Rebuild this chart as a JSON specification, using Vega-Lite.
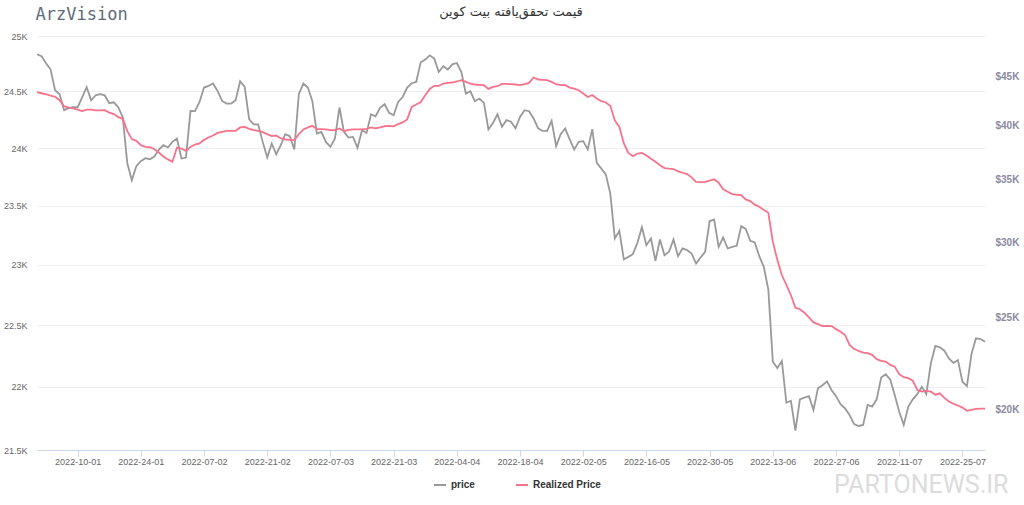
{
  "$schema": "https://vega.github.io/schema/vega-lite/v6.json",
  "autosize": {"type": "none"},
  "padding": {"left": 37, "top": 36, "right": 39, "bottom": 55},
  "width": 948,
  "height": 414,
  "background": "#ffffff",
  "title": {"text": "قیمت تحقق‌یافته بیت کوین", "font": "DejaVu Sans", "fontSize": 13, "fontWeight": "normal", "color": "#333333", "anchor": "middle", "offset": -14},
  "data": {"values": [
    {"d":"2022-01-01","p":47560,"r":24493},{"d":"2022-01-02","p":47330,"r":24484},{"d":"2022-01-03","p":46530,"r":24475},{"d":"2022-01-04","p":45850,"r":24462},{"d":"2022-01-05","p":43560,"r":24453},{"d":"2022-01-06","p":43140,"r":24422},{"d":"2022-01-07","p":41490,"r":24369},{"d":"2022-01-08","p":41690,"r":24356},{"d":"2022-01-09","p":41790,"r":24349},{"d":"2022-01-10","p":41790,"r":24338},
    {"d":"2022-01-11","p":42820,"r":24325},{"d":"2022-01-12","p":43880,"r":24338},{"d":"2022-01-13","p":42510,"r":24338},{"d":"2022-01-14","p":43030,"r":24331},{"d":"2022-01-15","p":43140,"r":24331},{"d":"2022-01-16","p":43030,"r":24334},{"d":"2022-01-17","p":42200,"r":24312},{"d":"2022-01-18","p":42300,"r":24299},{"d":"2022-01-19","p":41790,"r":24272},{"d":"2022-01-20","p":40790,"r":24257},
    {"d":"2022-01-21","p":36460,"r":24148},{"d":"2022-01-22","p":34970,"r":24078},{"d":"2022-01-23","p":36190,"r":24063},{"d":"2022-01-24","p":36630,"r":24025},{"d":"2022-01-25","p":36900,"r":24011},{"d":"2022-01-26","p":36810,"r":24007},{"d":"2022-01-27","p":37040,"r":23990},{"d":"2022-01-28","p":37690,"r":23961},{"d":"2022-01-29","p":38090,"r":23927},{"d":"2022-01-30","p":37880,"r":23901},{"d":"2022-01-31","p":38400,"r":23880},
    {"d":"2022-02-01","p":38720,"r":24004},{"d":"2022-02-02","p":36870,"r":23996},{"d":"2022-02-03","p":36960,"r":23975},{"d":"2022-02-04","p":41420,"r":24010},{"d":"2022-02-05","p":41390,"r":24031},{"d":"2022-02-06","p":42330,"r":24040},{"d":"2022-02-07","p":43850,"r":24072},{"d":"2022-02-08","p":44020,"r":24093},{"d":"2022-02-09","p":44280,"r":24110},{"d":"2022-02-10","p":43490,"r":24133},
    {"d":"2022-02-11","p":42440,"r":24142},{"d":"2022-02-12","p":42170,"r":24151},{"d":"2022-02-13","p":42170,"r":24151},{"d":"2022-02-14","p":42510,"r":24151},{"d":"2022-02-15","p":44530,"r":24181},{"d":"2022-02-16","p":43920,"r":24186},{"d":"2022-02-17","p":40560,"r":24169},{"d":"2022-02-18","p":40070,"r":24157},{"d":"2022-02-19","p":40070,"r":24151},{"d":"2022-02-20","p":38400,"r":24140},
    {"d":"2022-02-21","p":36960,"r":24122},{"d":"2022-02-22","p":38250,"r":24104},{"d":"2022-02-23","p":37260,"r":24110},{"d":"2022-02-24","p":38090,"r":24084},{"d":"2022-02-25","p":39120,"r":24075},{"d":"2022-02-26","p":38940,"r":24072},{"d":"2022-02-27","p":37690,"r":24069},{"d":"2022-02-28","p":43140,"r":24122},
    {"d":"2022-03-01","p":44280,"r":24163},{"d":"2022-03-02","p":43850,"r":24181},{"d":"2022-03-03","p":42410,"r":24195},{"d":"2022-03-04","p":39190,"r":24166},{"d":"2022-03-05","p":39350,"r":24166},{"d":"2022-03-06","p":38400,"r":24163},{"d":"2022-03-07","p":37940,"r":24157},{"d":"2022-03-08","p":38720,"r":24157},{"d":"2022-03-09","p":41760,"r":24172},{"d":"2022-03-10","p":39350,"r":24148},
    {"d":"2022-03-11","p":38810,"r":24160},{"d":"2022-03-12","p":38870,"r":24163},{"d":"2022-03-13","p":37840,"r":24163},{"d":"2022-03-14","p":39510,"r":24163},{"d":"2022-03-15","p":39250,"r":24169},{"d":"2022-03-16","p":41080,"r":24181},{"d":"2022-03-17","p":40880,"r":24172},{"d":"2022-03-18","p":41720,"r":24181},{"d":"2022-03-19","p":42100,"r":24193},{"d":"2022-03-20","p":41220,"r":24195},
    {"d":"2022-03-21","p":40980,"r":24191},{"d":"2022-03-22","p":42330,"r":24210},{"d":"2022-03-23","p":42850,"r":24225},{"d":"2022-03-24","p":43850,"r":24252},{"d":"2022-03-25","p":44310,"r":24363},{"d":"2022-03-26","p":44450,"r":24384},{"d":"2022-03-27","p":46640,"r":24405},{"d":"2022-03-28","p":46950,"r":24466},{"d":"2022-03-29","p":47440,"r":24523},{"d":"2022-03-30","p":47060,"r":24550},{"d":"2022-03-31","p":45550,"r":24550},
    {"d":"2022-04-01","p":46190,"r":24571},{"d":"2022-04-02","p":45820,"r":24577},{"d":"2022-04-03","p":46410,"r":24580},{"d":"2022-04-04","p":46560,"r":24589},{"d":"2022-04-05","p":45550,"r":24601},{"d":"2022-04-06","p":43210,"r":24586},{"d":"2022-04-07","p":43450,"r":24571},{"d":"2022-04-08","p":42410,"r":24562},{"d":"2022-04-09","p":42690,"r":24559},{"d":"2022-04-10","p":42230,"r":24556},
    {"d":"2022-04-11","p":39580,"r":24523},{"d":"2022-04-12","p":40220,"r":24541},{"d":"2022-04-13","p":41080,"r":24547},{"d":"2022-04-14","p":39840,"r":24568},{"d":"2022-04-15","p":40490,"r":24568},{"d":"2022-04-16","p":40340,"r":24565},{"d":"2022-04-17","p":39700,"r":24562},{"d":"2022-04-18","p":40810,"r":24556},{"d":"2022-04-19","p":41490,"r":24565},{"d":"2022-04-20","p":41390,"r":24577},
    {"d":"2022-04-21","p":40660,"r":24625},{"d":"2022-04-22","p":39700,"r":24607},{"d":"2022-04-23","p":39440,"r":24604},{"d":"2022-04-24","p":39440,"r":24601},{"d":"2022-04-25","p":40420,"r":24586},{"d":"2022-04-26","p":38010,"r":24565},{"d":"2022-04-27","p":39120,"r":24556},{"d":"2022-04-28","p":39670,"r":24556},{"d":"2022-04-29","p":38630,"r":24535},{"d":"2022-04-30","p":37690,"r":24526},
    {"d":"2022-05-01","p":38400,"r":24511},{"d":"2022-05-02","p":38470,"r":24481},{"d":"2022-05-03","p":37690,"r":24451},{"d":"2022-05-04","p":39610,"r":24469},{"d":"2022-05-05","p":36490,"r":24437},{"d":"2022-05-06","p":35980,"r":24413},{"d":"2022-05-07","p":35470,"r":24402},{"d":"2022-05-08","p":33840,"r":24372},{"d":"2022-05-09","p":30330,"r":24243},{"d":"2022-05-10","p":30900,"r":24186},
    {"d":"2022-05-11","p":28820,"r":24040},{"d":"2022-05-12","p":29000,"r":23958},{"d":"2022-05-13","p":29190,"r":23929},{"d":"2022-05-14","p":30010,"r":23952},{"d":"2022-05-15","p":31180,"r":23958},{"d":"2022-05-16","p":29840,"r":23935},{"d":"2022-05-17","p":30330,"r":23906},{"d":"2022-05-18","p":28720,"r":23880},{"d":"2022-05-19","p":30260,"r":23851},{"d":"2022-05-20","p":29120,"r":23826},
    {"d":"2022-05-21","p":29360,"r":23820},{"d":"2022-05-22","p":30260,"r":23817},{"d":"2022-05-23","p":29050,"r":23797},{"d":"2022-05-24","p":29600,"r":23785},{"d":"2022-05-25","p":29480,"r":23774},{"d":"2022-05-26","p":29240,"r":23745},{"d":"2022-05-27","p":28530,"r":23706},{"d":"2022-05-28","p":28960,"r":23704},{"d":"2022-05-29","p":29360,"r":23706},{"d":"2022-05-30","p":31650,"r":23716},{"d":"2022-05-31","p":31760,"r":23728},
    {"d":"2022-06-01","p":29720,"r":23699},{"d":"2022-06-02","p":30400,"r":23642},{"d":"2022-06-03","p":29600,"r":23621},{"d":"2022-06-04","p":29720,"r":23601},{"d":"2022-06-05","p":29790,"r":23595},{"d":"2022-06-06","p":31260,"r":23592},{"d":"2022-06-07","p":31050,"r":23555},{"d":"2022-06-08","p":30160,"r":23541},{"d":"2022-06-09","p":30040,"r":23510},{"d":"2022-06-10","p":29050,"r":23492},
    {"d":"2022-06-11","p":28300,"r":23464},{"d":"2022-06-12","p":26780,"r":23441},{"d":"2022-06-13","p":22450,"r":23195},{"d":"2022-06-14","p":22100,"r":23040},{"d":"2022-06-15","p":22490,"r":22915},{"d":"2022-06-16","p":20310,"r":22832},{"d":"2022-06-17","p":20410,"r":22749},{"d":"2022-06-18","p":18970,"r":22644},{"d":"2022-06-19","p":20480,"r":22631},{"d":"2022-06-20","p":20560,"r":22603},
    {"d":"2022-06-21","p":20640,"r":22565},{"d":"2022-06-22","p":19950,"r":22523},{"d":"2022-06-23","p":21040,"r":22509},{"d":"2022-06-24","p":21200,"r":22493},{"d":"2022-06-25","p":21400,"r":22495},{"d":"2022-06-26","p":20950,"r":22493},{"d":"2022-06-27","p":20640,"r":22468},{"d":"2022-06-28","p":20240,"r":22447},{"d":"2022-06-29","p":20030,"r":22420},{"d":"2022-06-30","p":19710,"r":22339},
    {"d":"2022-07-01","p":19280,"r":22307},{"d":"2022-07-02","p":19190,"r":22290},{"d":"2022-07-03","p":19240,"r":22277},{"d":"2022-07-04","p":20200,"r":22272},{"d":"2022-07-05","p":20120,"r":22258},{"d":"2022-07-06","p":20480,"r":22223},{"d":"2022-07-07","p":21600,"r":22210},{"d":"2022-07-08","p":21770,"r":22204},{"d":"2022-07-09","p":21500,"r":22177},{"d":"2022-07-10","p":20700,"r":22163},
    {"d":"2022-07-11","p":19870,"r":22102},{"d":"2022-07-12","p":19240,"r":22078},{"d":"2022-07-13","p":20110,"r":22070},{"d":"2022-07-14","p":20480,"r":22050},{"d":"2022-07-15","p":20740,"r":21975},{"d":"2022-07-16","p":21120,"r":21962},{"d":"2022-07-17","p":20740,"r":21968},{"d":"2022-07-18","p":22360,"r":21962},{"d":"2022-07-19","p":23330,"r":21938},{"d":"2022-07-20","p":23250,"r":21949},
    {"d":"2022-07-21","p":23060,"r":21912},{"d":"2022-07-22","p":22630,"r":21883},{"d":"2022-07-23","p":22390,"r":21865},{"d":"2022-07-24","p":22540,"r":21851},{"d":"2022-07-25","p":21380,"r":21835},{"d":"2022-07-26","p":21150,"r":21809},{"d":"2022-07-27","p":22870,"r":21817},{"d":"2022-07-28","p":23770,"r":21825},{"d":"2022-07-29","p":23730,"r":21827},{"d":"2022-07-30","p":23570,"r":21827}
  ]},
  "encoding": {
    "x": {
      "field": "d", "type": "temporal",
      "scale": {"type": "utc", "domain": [1640995200000, 1659139200000]},
      "axis": {
        "values": [1641772800000, 1642982400000, 1644192000000, 1645401600000, 1646611200000, 1647820800000, 1649030400000, 1650240000000, 1651449600000, 1652659200000, 1653868800000, 1655078400000, 1656288000000, 1657497600000, 1658707200000],
        "format": "%Y-%d-%m",
        "grid": false,
        "domainColor": "#ccd6eb", "tickColor": "#ccd6eb", "tickSize": 6,
        "labelPadding": 1, "labelFont": "Liberation Sans", "labelFontSize": 9, "labelColor": "#666666",
        "labelOverlap": false, "labelFlush": false,
        "title": "PARTONEWS.IR", "titleFont": "Roboto", "titleFontSize": 25, "titleFontWeight": "normal", "titleColor": "#dcdcdc",
        "titleAlign": "right", "titleBaseline": "alphabetic", "titleX": 971, "titleY": 42, "titleAnchor": null
      }
    }
  },
  "layer": [
    {
      "mark": {"type": "line", "strokeWidth": 1.8, "interpolate": "linear"},
      "encoding": {
        "y": {
          "field": "p", "type": "quantitative",
          "scale": {"type": "log", "domain": [18096, 49730], "zero": false, "nice": false},
          "axis": {
            "orient": "right", "values": [20000, 25000, 30000, 35000, 40000, 45000],
            "labelExpr": "'$' + format(datum.value / 1000, '~g') + 'K'",
            "grid": false, "domain": false, "ticks": false, "labelPadding": 10,
            "labelFont": "Liberation Sans", "labelFontSize": 10, "labelFontWeight": "bold", "labelColor": "#8a8aa0",
            "title": null
          }
        },
        "color": {"datum": "price", "type": "nominal",
          "scale": {"domain": ["price", "Realized Price"], "range": ["#999999", "#f7728a"]},
          "legend": {
            "orient": "none", "legendX": 396, "legendY": 442, "direction": "horizontal", "title": null,
            "symbolType": "stroke", "symbolSize": 144, "symbolStrokeWidth": 2,
            "labelFont": "Liberation Sans", "labelFontSize": 10, "labelFontWeight": "bold", "labelColor": "#333333",
            "labelOffset": 4, "columnPadding": 37
          }
        }
      }
    },
    {
      "mark": {"type": "line", "strokeWidth": 1.8, "interpolate": "linear"},
      "encoding": {
        "y": {
          "field": "r", "type": "quantitative",
          "scale": {"type": "log", "domain": [21500, 25000], "zero": false, "nice": false},
          "axis": {
            "orient": "left", "values": [21500, 22000, 22500, 23000, 23500, 24000, 24500, 25000],
            "labelExpr": "format(datum.value / 1000, '~g') + 'K'",
            "grid": true, "gridColor": "#efefef", "domain": false, "ticks": false, "labelPadding": 10,
            "labelFont": "Liberation Sans", "labelFontSize": 9, "labelColor": "#666666",
            "title": "ArzVision", "titleAngle": 0, "titleAlign": "left", "titleBaseline": "alphabetic",
            "titleX": -2, "titleY": -17, "titleFont": "DejaVu Sans Mono", "titleFontSize": 17, "titleFontWeight": "normal", "titleColor": "#5f6b7a"
          }
        },
        "color": {"datum": "Realized Price", "type": "nominal"}
      }
    }
  ],
  "resolve": {"scale": {"y": "independent"}},
  "config": {"view": {"stroke": null}}
}
